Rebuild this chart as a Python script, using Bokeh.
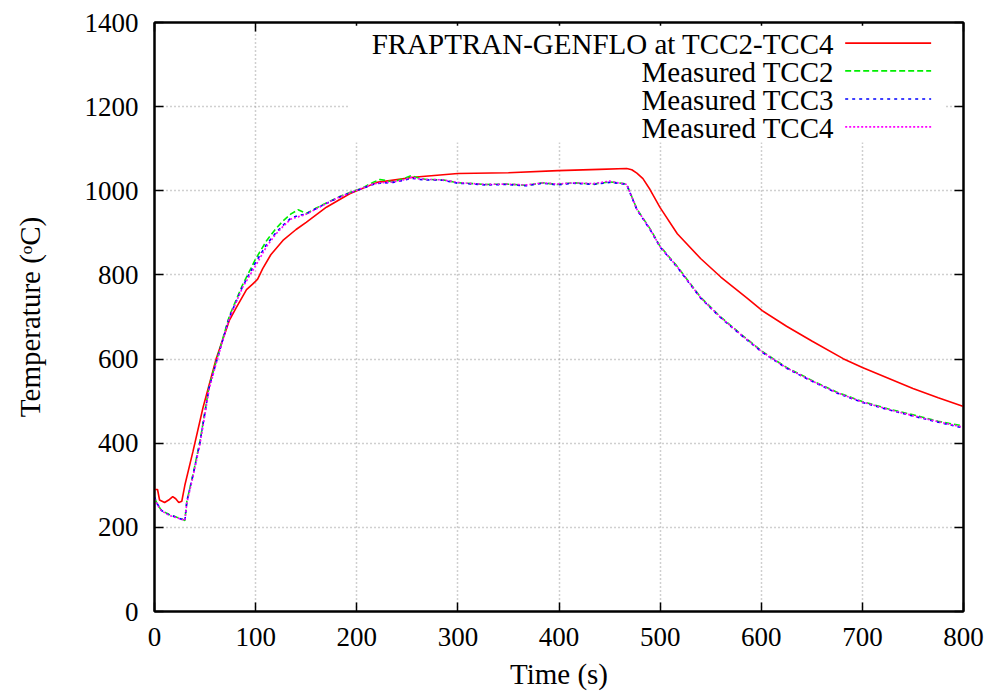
from bokeh.plotting import figure
from bokeh.models import (Range1d, LinearAxis, FixedTicker, BoxAnnotation, Label, Arrow,
                          CustomJSTickFormatter)
from bokeh.embed import file_html
from bokeh.resources import INLINE

# ---- data ----
x_ticks = [0, 100, 200, 300, 400, 500, 600, 700, 800]
y_ticks = [0, 200, 400, 600, 800, 1000, 1200, 1400]

t_model = [0, 3, 5, 10, 14, 18, 21, 24, 27, 30,
           38, 48, 61, 74, 81, 91, 97, 102, 107, 115,
           127, 140, 150, 170, 193, 220, 256, 300, 350, 399,
           440, 467, 472, 477, 483, 490, 500, 517, 540, 560,
           586, 601, 625, 650, 681, 700, 725, 750, 775, 800]
T_model = [290, 290, 265, 259, 265, 273, 268, 259, 262, 300,
           380, 485, 601, 692, 723, 765, 778, 790, 815, 848,
           882, 908, 925, 961, 993, 1020, 1032, 1041, 1043, 1048,
           1051, 1053, 1050, 1042, 1029, 1003, 960, 898, 839, 795,
           745, 715, 678, 643, 601, 580, 555, 530, 508, 487]

t_meas = [0, 3, 7, 15, 22, 28, 30, 32, 38, 45,
          54, 61, 74, 87, 100, 111, 120, 127, 135, 142,
          150, 160, 170, 182, 193, 205, 216, 223, 236, 245,
          254, 262, 269, 285, 300, 315, 328, 348, 368, 384,
          398, 414, 434, 450, 458, 464, 467, 477, 490, 500,
          517, 540, 559, 580, 601, 625, 652, 675, 700, 725,
          751, 775, 800]
T_tcc2 = [270, 254, 240, 230, 224, 219, 216, 262, 325, 405,
          535, 595, 702, 776, 838, 882, 910, 928, 945, 955,
          946, 959, 971, 985, 996, 1006, 1020, 1027, 1021, 1028,
          1036, 1030, 1027, 1026, 1019, 1017, 1015, 1016, 1013, 1019,
          1015, 1019, 1016, 1021, 1019, 1017, 1015, 957, 910, 868,
          820, 747, 702, 659, 618, 580, 547, 521, 499, 482,
          467, 452, 441]
T_tcc3 = [272, 255, 240, 229, 224, 218, 215, 262, 323, 402,
          532, 592, 699, 772, 830, 873, 900, 918, 935, 941,
          945, 958, 970, 984, 995, 1005, 1015, 1018, 1020, 1024,
          1030, 1027, 1026, 1025, 1018, 1016, 1014, 1015, 1012, 1018,
          1014, 1018, 1015, 1020, 1018, 1016, 1014, 955, 908, 866,
          818, 745, 700, 657, 616, 578, 545, 519, 497, 480,
          464, 450, 436]
T_tcc4 = [268, 253, 239, 228, 223, 218, 216, 258, 320, 398,
          528, 590, 697, 770, 822, 868, 897, 915, 933, 938,
          944, 957, 970, 984, 995, 1006, 1016, 1019, 1021, 1025,
          1032, 1028, 1027, 1026, 1020, 1017, 1015, 1016, 1014, 1019,
          1016, 1019, 1017, 1023, 1019, 1017, 1015, 956, 909, 867,
          819, 746, 701, 658, 617, 579, 546, 520, 498, 481,
          465, 451, 438]

series_names = ["FRAPTRAN-GENFLO at TCC2-TCC4", "Measured TCC2",
                "Measured TCC3", "Measured TCC4"]

FONT = "'Liberation Serif', 'Times New Roman', serif"

p = figure(width=984, height=700, output_backend="svg", toolbar_location=None,
           x_range=Range1d(0, 800), y_range=Range1d(0, 1400),
           min_border_left=154, min_border_top=22, min_border_right=21,
           min_border_bottom=89)
p.background_fill_color = "white"
p.border_fill_color = "white"
p.outline_line_color = "black"
p.outline_line_width = 2

# axes
for ax in (p.xaxis[0], p.yaxis[0]):
    ax.major_label_text_font = FONT
    ax.major_label_text_font_size = "27px"
    ax.major_label_text_color = "black"
    ax.axis_label_text_font = FONT
    ax.axis_label_text_font_size = "29px"
    ax.axis_label_text_font_style = "normal"
    ax.axis_label_text_color = "black"
    ax.major_tick_in = 9
    ax.major_tick_out = 0
    ax.minor_tick_line_color = None
    ax.axis_line_color = "black"
    ax.axis_line_width = 2
    ax.major_tick_line_width = 1.5

p.xaxis[0].ticker = FixedTicker(ticks=x_ticks)
p.yaxis[0].ticker = FixedTicker(ticks=y_ticks)
p.xaxis[0].axis_label = "Time (s)"
p.yaxis[0].axis_label = "Temperature (\u1d52C)"
p.xaxis[0].major_label_standoff = 16
p.yaxis[0].major_label_standoff = 16
p.xaxis[0].axis_label_standoff = 9
p.yaxis[0].axis_label_standoff = 36

# mirrored ticks on right and top (no labels)
blank = CustomJSTickFormatter(code="return ''")
ax_r = LinearAxis(ticker=FixedTicker(ticks=y_ticks), formatter=blank,
                  major_label_text_color=None, major_label_standoff=0,
                  major_tick_in=9, major_tick_out=0, minor_tick_line_color=None,
                  axis_line_color="black", axis_line_width=2, major_tick_line_width=1.5)
ax_t = LinearAxis(ticker=FixedTicker(ticks=x_ticks), formatter=blank,
                  major_label_text_color=None, major_label_standoff=0,
                  major_tick_in=9, major_tick_out=0, minor_tick_line_color=None,
                  axis_line_color="black", axis_line_width=2, major_tick_line_width=1.5)
p.add_layout(ax_r, "right")
p.add_layout(ax_t, "above")

# grid
p.xgrid.ticker = FixedTicker(ticks=x_ticks)
p.ygrid.ticker = FixedTicker(ticks=y_ticks)
for g in (p.xgrid[0], p.ygrid[0]):
    g.grid_line_color = "#a0a0a0"
    g.grid_line_dash = "1 3"
    g.grid_line_width = 1.5

# curves
p.line(t_model, T_model, line_color="#ff0000", line_width=1.6)
p.line(t_meas, T_tcc2, line_color="#00ee00", line_width=1.6, line_dash="6 3")
p.line(t_meas, T_tcc3, line_color="#0000ff", line_width=1.6, line_dash="3 4")
p.line(t_meas, T_tcc4, line_color="#ff00ff", line_width=1.6, line_dash="2 2")

# legend (gnuplot style: right-aligned text, sample on the right)
p.add_layout(BoxAnnotation(left=192, right=782, bottom=1115, top=1392,
                           fill_color="white", fill_alpha=1.0, line_color=None))
legend_rows = [1348, 1282, 1215, 1149]
legend_styles = [("#ff0000", "solid"), ("#00ee00", "6 3"),
                 ("#0000ff", "3 4"), ("#ff00ff", "2 2")]
for name, yrow, (col, dash) in zip(series_names, legend_rows, legend_styles):
    p.add_layout(Label(x=672, y=yrow, text=name, text_align="right",
                       text_baseline="middle", text_font=FONT,
                       text_font_size="29px", text_color="black"))
    p.add_layout(Arrow(x_start=683, y_start=yrow + 3, x_end=768, y_end=yrow + 3,
                       end=None, start=None, line_color=col, line_width=1.6,
                       line_dash=dash))

open("out.html", "w").write(file_html(p, INLINE))
